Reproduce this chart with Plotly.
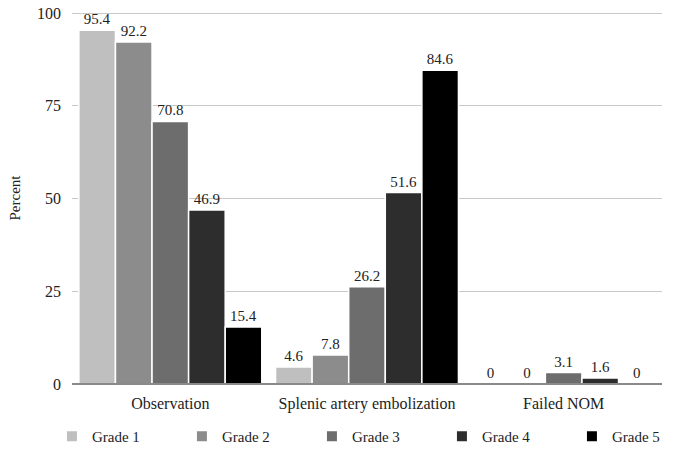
import plotly.graph_objects as go

categories = ["Observation", "Splenic artery embolization", "Failed NOM"]
grades = ["Grade 1", "Grade 2", "Grade 3", "Grade 4", "Grade 5"]
grade1 = [95.4, 4.6, 0]
grade2 = [92.2, 7.8, 0]
grade3 = [70.8, 26.2, 3.1]
grade4 = [46.9, 51.6, 1.6]
grade5 = [15.4, 84.6, 0]
series = [grade1, grade2, grade3, grade4, grade5]
colors = ["#bfbfbf", "#8c8c8c", "#6d6d6d", "#2d2d2d", "#000000"]
y_ticks = [0, 25, 50, 75, 100]

FONT = "Times New Roman, Liberation Serif, serif"

fig = go.Figure()
for name, vals, c in zip(grades, series, colors):
    fig.add_trace(go.Bar(
        name=name, x=categories, y=vals,
        marker=dict(color=c, line=dict(color="white", width=1.5)),
        text=[f"{v:g}" for v in vals], textposition="outside",
        textfont=dict(family=FONT, size=15, color="#222"),
        cliponaxis=False,
    ))

fig.update_layout(
    width=676, height=452,
    margin=dict(l=72, r=14, t=12, b=68, autoexpand=False),
    paper_bgcolor="white", plot_bgcolor="white",
    barmode="group", bargap=0.07, bargroupgap=0,
    font=dict(family=FONT, size=15, color="#222"),
    showlegend=True,
    legend=dict(orientation="h", x=-0.034, xanchor="left", y=-0.097, yanchor="top",
                entrywidth=85, font=dict(family=FONT, size=15, color="#222"),
                itemsizing="constant"),
    uniformtext=dict(mode=False),
)
fig.update_xaxes(showgrid=False, showline=False, ticks="", tickfont=dict(size=16),
                 ticklabelstandoff=8)
fig.update_yaxes(range=[0, 100.3], tickvals=y_ticks, showgrid=True, gridcolor="#c8c8c8",
                 gridwidth=1, zeroline=True, zerolinecolor="#8a8a8a", zerolinewidth=1.5,
                 zerolinelayer="above traces",
                 showline=False, ticks="", ticklen=0, ticklabelstandoff=10,
                 title=dict(text="Percent", font=dict(size=15), standoff=12),
                 tickfont=dict(size=16))

fig.write_html("out.html", config={"displayModeBar": False},
               post_script="document.body.style.margin='0px';")
